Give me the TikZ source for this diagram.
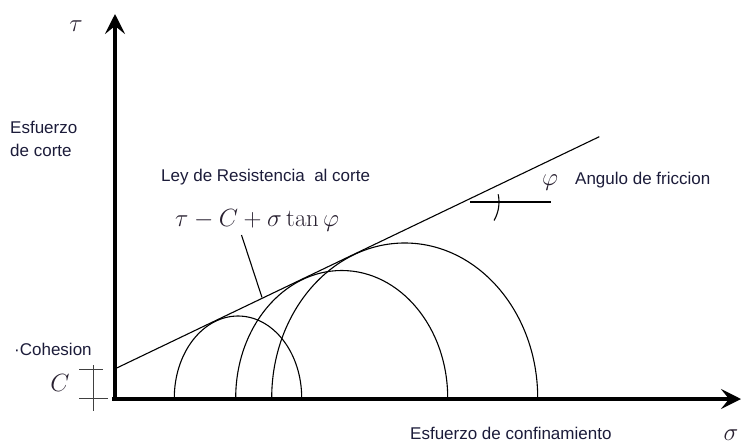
\documentclass[tikz,border=0pt]{standalone}
\usepackage[no-math]{fontspec}
\setmainfont{Liberation Sans}
\usetikzlibrary{arrows.meta}
\definecolor{txtc}{RGB}{28,28,58}
\definecolor{mathc}{RGB}{40,32,48}
\tikzset{
  axis/.style={line width=4pt,-{Stealth[length=20pt,width=20pt,inset=8pt]}},
  thin/.style={line width=1.1pt,black},
  lbl/.style={inner sep=0pt,text=txtc,font=\fontsize{17}{20}\selectfont},
  mth/.style={inner sep=0pt,text=mathc},
}
\begin{document}
\begin{tikzpicture}[x=1pt,y=-1pt]
\useasboundingbox (0,0) rectangle (741,444);
\fill[white] (0,0) rectangle (741,444);
% axes
\coordinate (O) at (115,399);
\coordinate (ytop) at (115,14);
\coordinate (xend) at (741,399);
\draw[axis] (115,401) -- (ytop);
\draw[axis] (112,399) -- (xend);
% Mohr circles (ellipses as drawn)
\draw[thin] (301.7,398) arc[start angle=0,end angle=-180,x radius=63.7,y radius=82];
\draw[thin] (447.7,398) arc[start angle=0,end angle=-180,x radius=106,y radius=127.5];
\draw[thin] (537.7,398) arc[start angle=0,end angle=-180,x radius=133,y radius=155];
% failure envelope
\coordinate (l0) at (114,369.3);
\coordinate (l1) at (599.3,136.7);
\draw[thin] (l0) -- (l1);
% angle marker
\coordinate (av) at (462,202);
\coordinate (ah) at (551,202);
\draw[thin] (470,202) -- (ah);
\draw[thin] ([shift={(-12:37)}]av) arc[start angle=-12,end angle=30,radius=37];
% C bracket
\coordinate (cb0) at (93.3,365);
\coordinate (cb1) at (93.3,411);
\draw[line width=1pt,black!75] (cb0) -- (cb1);
\draw[line width=1pt,black!75] (79,369.3) -- (102.7,369.3);
\draw[line width=1pt,black!75] (79,398.3) -- (108,398.3);
% labels
\node[mth,font=\fontsize{34}{36}\selectfont] (tau) at (76,26) {$\tau$};
\node[mth,font=\fontsize{34}{36}\selectfont] (sig) at (731,435) {$\sigma$};
\node[lbl,anchor=west] (esf1) at (10,127) {Esfuerzo};
\node[lbl,anchor=west] (esf2) at (10,150) {de corte};
\node[lbl,anchor=west] (ley) at (161,177) {Ley de Resistencia\ \ al corte};
\node[mth,anchor=base west,font=\fontsize{24}{28}\selectfont] (form) at (175,226) {$\tau - C + \sigma \tan\varphi$};
\coordinate (lead0) at (241.5,235);
\coordinate (lead1) at (262,297.5);
\draw[thin] (lead0) -- (lead1);
\node[mth,font=\fontsize{28}{30}\selectfont] (phi) at (550,183) {$\varphi$};
\node[lbl,anchor=west] (ang) at (575,180) {Angulo de friccion};
\node[lbl,anchor=west] (coh) at (14,349) {·Cohesion};
\node[mth,font=\fontsize{28}{30}\selectfont] (cc) at (60,383) {$C$};
\node[lbl,anchor=west] (conf) at (410,433) {Esfuerzo de confinamiento};
\end{tikzpicture}
\end{document}
